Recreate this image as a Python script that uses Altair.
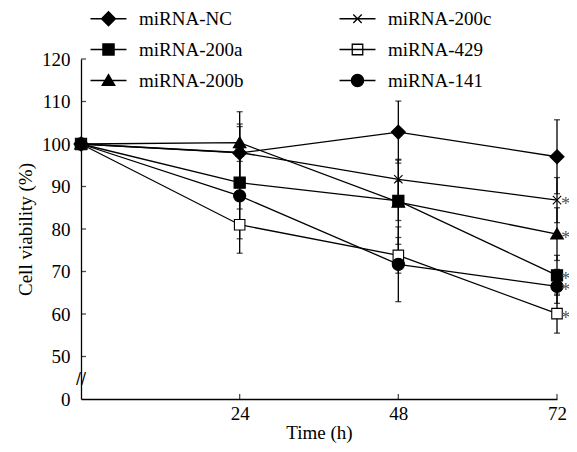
import altair as alt
import pandas as pd

# ---------------- data ----------------
times = [0, 24, 48, 72]
series = ["miRNA-NC", "miRNA-200a", "miRNA-200b", "miRNA-200c", "miRNA-429", "miRNA-141"]
values = {
    "miRNA-NC":   [100, 97.9, 102.8, 97.0],
    "miRNA-200a": [100, 90.9, 86.6, 69.1],
    "miRNA-200b": [100, 100.3, 86.3, 78.8],
    "miRNA-200c": [100, 98.0, 91.7, 86.8],
    "miRNA-429":  [100, 81.0, 73.8, 60.1],
    "miRNA-141":  [100, 87.8, 71.7, 66.5],
}
sds = {
    "miRNA-NC":   [0, 9.7, 7.3, 8.7],
    "miRNA-200a": [0, 6.2, 4.6, 4.7],
    "miRNA-200b": [0, 4.4, 9.9, 6.2],
    "miRNA-200c": [0, 6.1, 4.7, 5.3],
    "miRNA-429":  [0, 6.7, 4.2, 4.6],
    "miRNA-141":  [0, 10.1, 8.8, 4.0],
}
significant = ["miRNA-200c", "miRNA-200b", "miRNA-200a", "miRNA-141", "miRNA-429"]
y_ticks = [40, 50, 60, 70, 80, 90, 100, 110, 120]
x_ticks = [24, 48, 72]

# ---------------- styles ----------------
marker = {
    "miRNA-NC":   "M0,-1L1,0L0,1L-1,0Z",
    "miRNA-200c": "M-0.6,-0.6L0.6,0.6M-0.6,0.6L0.6,-0.6",
    "miRNA-200a": "M-0.8,-0.8H0.8V0.8H-0.8Z",
    "miRNA-429":  "M-0.75,-0.75H0.75V0.75H-0.75Z",
    "miRNA-200b": "M0,-0.85L0.9,0.7H-0.9Z",
    "miRNA-141":  "M0.87,0A0.87,0.87,0,1,1,-0.87,0A0.87,0.87,0,1,1,0.87,0Z",
}
fillc = {s: "black" for s in series}
fillc["miRNA-429"] = "white"
legline = "M-2.57,0H2.57"

rows = []
for s in series:
    for t, v, e in zip(times, values[s], sds[s]):
        rows.append({"series": s, "time": t, "value": v, "lo": v - e, "hi": v + e,
                     "pshape": marker[s], "pfill": fillc[s]})
df = pd.DataFrame(rows)
df_err = df[df["time"] > 0]
df_sig = df[(df["time"] == 72) & (df["series"].isin(significant))]
df_yt = pd.DataFrame({"v": y_ticks[1:]})
df_xt = pd.DataFrame({"t": x_ticks})

FONT = "Liberation Serif"
xscale = alt.Scale(domain=[0, 72], nice=False, zero=False)
yscale = alt.Scale(domain=[40, 120], nice=False, zero=False)

base = alt.Chart(df)
X = alt.X("time:Q", scale=xscale,
          axis=alt.Axis(values=x_ticks, title="Time (h)", ticks=False, tickSize=0, grid=False,
                        labelPadding=5, titlePadding=0, titleFontSize=19))
Y = alt.Y("value:Q", scale=yscale,
          axis=alt.Axis(values=y_ticks, title="Cell viability (%)", ticks=False, tickSize=0, grid=False,
                        labelExpr="datum.value == 40 ? '0' : datum.value",
                        labelPadding=11, titlePadding=6, titleFontSize=19))

err = alt.Chart(df_err).mark_rule(color="black", strokeWidth=1.3).encode(
    x=alt.X("time:Q", scale=xscale), y=alt.Y("lo:Q", scale=yscale), y2="hi:Q")
cap_lo = alt.Chart(df_err).mark_tick(color="black", orient="horizontal", size=6, thickness=1.3).encode(
    x=alt.X("time:Q", scale=xscale), y=alt.Y("lo:Q", scale=yscale))
cap_hi = alt.Chart(df_err).mark_tick(color="black", orient="horizontal", size=6, thickness=1.3).encode(
    x=alt.X("time:Q", scale=xscale), y=alt.Y("hi:Q", scale=yscale))

lines = base.mark_line(color="black", strokeWidth=1.3).encode(
    x=X, y=Y, detail="series:N", order="time:Q")

points = base.mark_point(stroke="black", strokeWidth=1.1, opacity=1, size=196).encode(
    x=alt.X("time:Q", scale=xscale), y=alt.Y("value:Q", scale=yscale),
    shape=alt.Shape("pshape:N", scale=None),
    fill=alt.Fill("pfill:N", scale=None))

legend = alt.Legend(title=None, orient="none", legendX=18, legendY=-50, columns=2,
                    padding=0, rowPadding=11, columnPadding=92, labelOffset=21,
                    symbolSize=196, symbolStrokeColor="black", symbolStrokeWidth=1.3,
                    symbolOpacity=1, labelFont=FONT, labelFontSize=19, labelColor="black")
legend_layer = base.mark_point(stroke="black", strokeWidth=1.3, opacity=0, size=196).encode(
    x=alt.X("time:Q", scale=xscale), y=alt.Y("value:Q", scale=yscale),
    shape=alt.Shape("series:N", scale=alt.Scale(domain=series,
                    range=[legline + marker[s] for s in series]), legend=legend),
    fill=alt.Fill("series:N", scale=alt.Scale(domain=series,
                  range=[fillc[s] for s in series]), legend=legend),
    stroke=alt.Stroke("series:N", scale=alt.Scale(domain=series,
                      range=["black"] * len(series)), legend=legend))

stars = alt.Chart(df_sig).mark_text(text="*", dx=4, dy=4, fontSize=19, font=FONT,
                                    color="#555555", baseline="middle", align="left").encode(
    x=alt.X("time:Q", scale=xscale), y=alt.Y("value:Q", scale=yscale))

ytk = alt.Chart(df_yt).mark_tick(color="black", orient="horizontal", size=5, thickness=1.3,
                                 xOffset=2.5).encode(
    x=alt.datum(0, scale=xscale), y=alt.Y("v:Q", scale=yscale))
xtk = alt.Chart(df_xt).mark_tick(color="black", orient="vertical", size=5, thickness=1.3,
                                 yOffset=-2.5).encode(
    x=alt.X("t:Q", scale=xscale), y=alt.datum(40, scale=yscale))

brk = alt.Chart(pd.DataFrame({"a": [1]})).mark_text(text="//", fontSize=15, font="DejaVu Sans",
                                                     color="black").encode(
    x=alt.datum(0, scale=xscale), y=alt.datum(44.6, scale=yscale))

chart = alt.layer(lines, err, cap_lo, cap_hi, points, legend_layer, stars, ytk, xtk, brk).properties(
    width=476, height=340,
    autosize=alt.AutoSizeParams(type="none"),
    padding={"left": 73, "top": 51, "right": 12, "bottom": 45},
).resolve_scale(shape="independent", fill="independent", stroke="independent").configure(
    background="white"
).configure_view(stroke=None).configure_axis(
    grid=False, domainColor="black", domainWidth=1.3, labelFont=FONT, labelFontSize=19,
    labelColor="black", titleFont=FONT, titleColor="black", titleFontWeight="normal",
    labelFlush=False, labelOverlap=False
)

chart.save("out.html", embed_options={"renderer": "svg", "actions": False})
